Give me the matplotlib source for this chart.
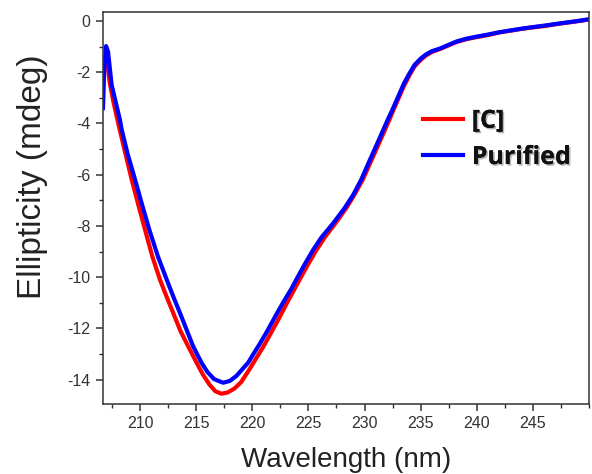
import matplotlib
matplotlib.use("Agg")
import matplotlib.pyplot as plt
import matplotlib.patheffects as pe
from matplotlib.ticker import MultipleLocator

plt.rcParams["axes.unicode_minus"] = False

# Data
wl_c = [206.7, 206.8, 207.0, 207.3, 207.6, 208.06, 208.6, 209.25, 209.8, 210.44,
        211.1, 211.77, 212.4, 212.95, 213.6, 214.29, 215.04, 215.6, 216.2, 216.7,
        217.26, 217.8, 218.4, 219.0, 219.6, 220.3, 221.0, 221.7, 222.45, 223.1,
        223.78, 224.4, 224.97, 225.7, 226.45, 227.4, 228.38, 229.1, 229.86, 230.45,
        231.05, 231.65, 232.23, 232.5, 233.0, 233.5, 234.0, 234.45, 235.0, 235.5,
        236.0, 236.7, 237.5, 238.2, 239.1, 240.0, 241.0, 242.0, 243.0, 244.0,
        245.0, 246.2, 247.0, 248.0, 249.0, 249.9]
ell_c = [-2.0, -1.5, -1.4, -2.4, -3.1, -4.0, -5.0, -6.18, -7.1, -8.14,
         -9.2, -10.09, -10.8, -11.39, -12.1, -12.7, -13.34, -13.8, -14.2, -14.45,
         -14.55, -14.5, -14.35, -14.1, -13.7, -13.2, -12.7, -12.15, -11.55, -11.0,
         -10.45, -9.95, -9.5, -8.95, -8.45, -7.9, -7.3, -6.78, -6.18, -5.6,
         -5.01, -4.42, -3.84, -3.55, -3.05, -2.55, -2.12, -1.78, -1.52, -1.34,
         -1.21, -1.1, -0.95, -0.82, -0.71, -0.63, -0.55, -0.45, -0.38, -0.31,
         -0.25, -0.19, -0.13, -0.07, -0.01, 0.05]

wl_p = [206.7, 206.8, 206.97, 207.15, 207.47, 208.2, 208.36, 208.9, 209.55, 210.2,
        210.82, 211.6, 212.37, 213.0, 213.55, 214.1, 214.73, 215.48, 216.0, 216.6,
        217.4, 218.0, 218.6, 219.2, 219.63, 220.1, 220.67, 221.4, 222.15, 222.8,
        223.49, 224.1, 224.67, 225.4, 226.16, 227.2, 228.23, 229.0, 229.72, 230.3,
        230.9, 231.5, 232.08, 232.5, 233.0, 233.5, 234.0, 234.45, 235.0, 235.5,
        236.0, 236.7, 237.5, 238.2, 239.1, 240.0, 241.0, 242.0, 243.0, 244.0,
        245.0, 246.2, 247.0, 248.0, 249.0, 249.9]
ell_p = [-3.4, -2.0, -0.98, -1.2, -2.5, -3.84, -4.23, -5.2, -6.18, -7.2,
         -8.14, -9.2, -10.09, -10.8, -11.39, -12.0, -12.7, -13.34, -13.7, -13.98,
         -14.12, -14.05, -13.85, -13.55, -13.34, -13.0, -12.6, -12.05, -11.45, -10.95,
         -10.45, -9.95, -9.5, -8.95, -8.45, -7.9, -7.3, -6.78, -6.18, -5.6,
         -5.01, -4.42, -3.84, -3.45, -2.95, -2.45, -2.05, -1.72, -1.47, -1.3,
         -1.18, -1.08, -0.93, -0.8, -0.69, -0.61, -0.53, -0.44, -0.37, -0.3,
         -0.24, -0.17, -0.12, -0.06, 0.0, 0.06]

labels = ["[C]", "Purified"]
x_ticks = [210, 215, 220, 225, 230, 235, 240, 245]
y_ticks = [0, -2, -4, -6, -8, -10, -12, -14]

W, H = 592, 474
fig = plt.figure(figsize=(W / 100, H / 100), dpi=100)
ax = fig.add_axes([103 / W, 1 - 404 / H, (589 - 103) / W, (404 - 12) / H])

ax.plot(wl_c, ell_c, color="#ff0000", lw=3.0, label=labels[0], solid_joinstyle="round")
ax.plot(wl_p, ell_p, color="#0000ff", lw=3.0, label=labels[1], solid_joinstyle="round")

ax.set_xlim(206.7, 250)
ax.set_ylim(-14.95, 0.35)
ax.set_xticks(x_ticks)
ax.set_yticks(y_ticks)
ax.xaxis.set_minor_locator(MultipleLocator(2.5))
ax.yaxis.set_minor_locator(MultipleLocator(1))

for s in ax.spines.values():
    s.set_linewidth(1.1)
    s.set_color("#333333")

ax.tick_params(which="major", direction="out", length=5, width=1.1, color="#333333",
               labelsize=11.5, labelcolor="#333333", pad=4)
ax.tick_params(which="minor", direction="out", length=3, width=1.0, color="#333333")
for lab in ax.get_xticklabels() + ax.get_yticklabels():
    lab.set_family("Liberation Sans")

ax.set_xlabel("Wavelength (nm)", family="Liberation Sans", fontsize=20, color="#222222", labelpad=11)
ax.set_ylabel("Ellipticity (mdeg)", family="Liberation Sans", fontsize=24, color="#222222")
ax.yaxis.set_label_coords(-0.113, 0.58)

leg = ax.legend(loc="center left", bbox_to_anchor=(423 / W, 1 - 139.4 / H),
                bbox_transform=fig.transFigure, frameon=False,
                prop={"family": "Open Sans", "weight": "bold", "size": 18},
                handlelength=1.6, handletextpad=0.35, labelspacing=0.45,
                borderpad=0, borderaxespad=0)
for t in leg.get_texts():
    t.set_color("#111111")
    t.set_path_effects([pe.withSimplePatchShadow(offset=(1.2, -1.2), shadow_rgbFace="#888888", alpha=0.6),
                        pe.Normal()])

fig.savefig("out.png", dpi=100)
